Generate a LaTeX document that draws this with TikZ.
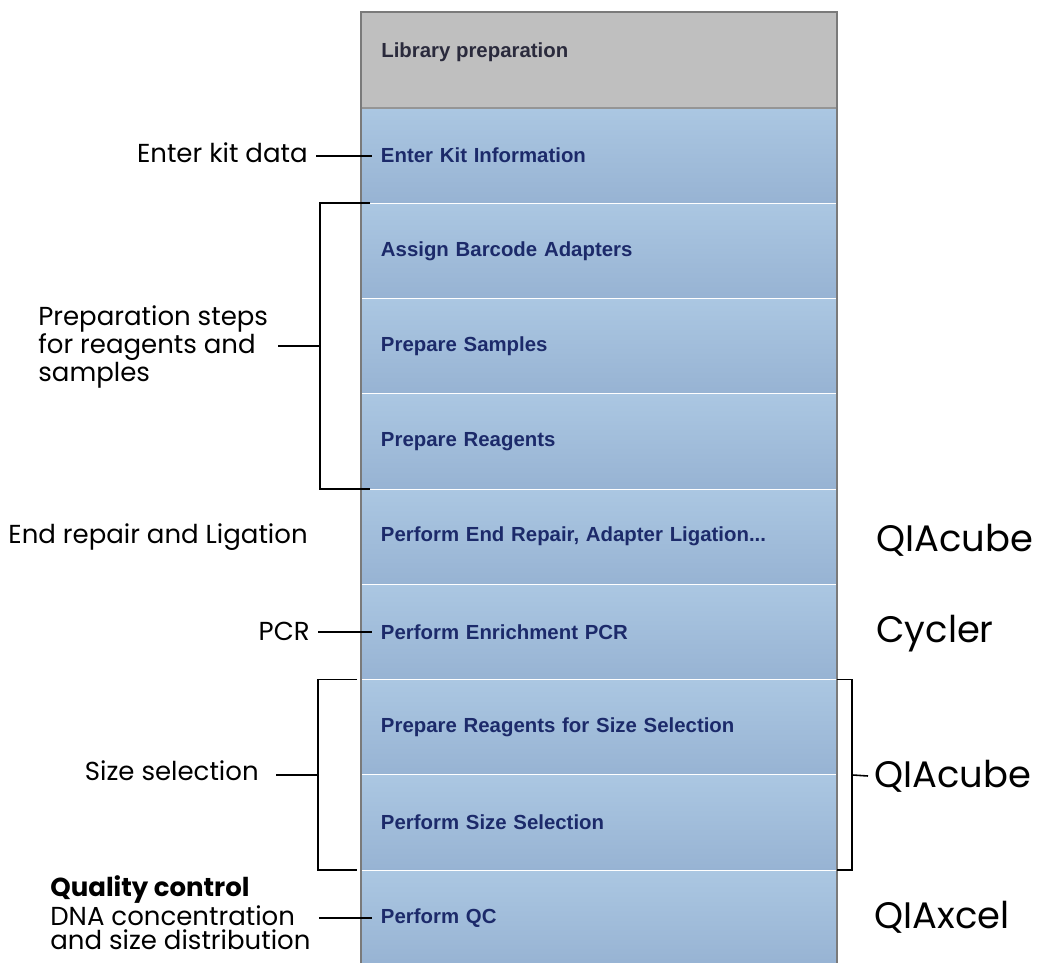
\documentclass[tikz,border=0pt]{standalone}
\usepackage{fontspec}
\setmainfont{Liberation Sans}
\newfontfamily\lblfont{Poppins}
\usepackage{xcolor}
\usetikzlibrary{positioning, calc}
\definecolor{rowtop}{HTML}{ABC7E2}
\definecolor{rowbot}{HTML}{97B3D3}
\definecolor{hdrgray}{HTML}{BFBFBF}
\definecolor{framegray}{HTML}{7A7A7A}
\definecolor{rownavy}{HTML}{1C2A6A}
\definecolor{hdrtext}{HTML}{2A2A3C}

\tikzset{
  stepbox/.style={draw=white, line width=0.6pt, top color=rowtop, bottom color=rowbot,
    minimum width=9.52cm, minimum height=1.906cm, inner sep=0pt, outer sep=0pt,
    text width=8.72cm, align=left, text=rownavy, font=\fontsize{11.6}{13}\selectfont\bfseries},
  hdrbox/.style={fill=hdrgray, minimum width=9.52cm, minimum height=1.92cm, inner sep=0pt, outer sep=0pt},
  lbl/.style={font=\lblfont\fontsize{14.8}{14.2}\selectfont, inner sep=0pt, align=left},
  biglbl/.style={font=\lblfont\fontsize{21}{24}\selectfont, inner sep=0pt},
  tick/.style={line width=1.1pt},
  brk/.style={line width=0.9pt}
}

\begin{document}
\begin{tikzpicture}[x=0.02cm, y=-0.02cm]
  \clip (0,0) rectangle (1038,963);

  % the step column
  \node[hdrbox, anchor=north west] (hdr) at (361,12) {};
  \node[stepbox, below=0pt of hdr] (kit) {Enter Kit Information};
  \node[stepbox, below=0pt of kit] (barcode) {Assign Barcode Adapters};
  \node[stepbox, below=0pt of barcode] (samples) {Prepare Samples};
  \node[stepbox, below=0pt of samples] (reagents) {Prepare Reagents};
  \node[stepbox, below=0pt of reagents] (endrep) {Perform End Repair, Adapter Ligation...};
  \node[stepbox, below=0pt of endrep] (pcr) {Perform Enrichment PCR};
  \node[stepbox, below=0pt of pcr] (sizereag) {Prepare Reagents for Size Selection};
  \node[stepbox, below=0pt of sizereag] (sizesel) {Perform Size Selection};
  \node[stepbox, below=0pt of sizesel] (qc) {Perform QC};
  \node[anchor=west, inner sep=0pt, text=hdrtext, font=\fontsize{11.6}{13}\selectfont\bfseries]
    (hdrtxt) at ($(hdr.west)+(20,-8)$) {Library preparation};
  \draw[line width=1.6pt, framegray!80] (hdr.south west) -- (hdr.south east);
  \draw[line width=1.2pt, framegray] (qc.south west) -- (hdr.north west) -- (hdr.north east) -- (qc.south east);

  % left labels
  \node[lbl, anchor=east] (kitlbl) at (308,153) {Enter kit data};
  \node[lbl, anchor=west] (preplbl) at (38,347) {Preparation steps\\for reagents and\\samples};
  \node[lbl, anchor=east] (endlbl) at (308,537) {End repair and Ligation};
  \node[lbl, anchor=east] (pcrlbl) at (310,631) {PCR};
  \node[lbl, anchor=east] (sizelbl) at (259,771) {Size selection};
  \node[lbl, anchor=west] (qclbl) at (50,913) {\textbf{Quality control}\\DNA concentration\\and size distribution};

  % right labels
  \node[biglbl, anchor=west] (cube1) at (876,540) {QIAcube};
  \node[biglbl, anchor=west] (cycler) at (876,634) {Cycler};
  \node[biglbl, anchor=west] (cube2) at (874,776) {QIAcube};
  \node[biglbl, anchor=west] (xcel) at (874,917) {QIAxcel};

  % connectors
  \draw[tick] ($(kitlbl.east |- kit.west)+(8,0)$) -- ($(kit.west)+(11,0)$);
  \draw[tick] ($(pcrlbl.east |- pcr.west)+(8,0)$) -- ($(pcr.west)+(11,0)$);
  \draw[tick] ($(qclbl.east |- qc.west)+(8,0)$) -- ($(qc.west)+(11,0)$);

  \coordinate (pb) at ($(barcode.north west)!0.5!(reagents.south west)+(-41,0)$);
  \draw[brk] ($(barcode.north west)+(9,0)$) -| (pb) |- ($(reagents.south west)+(9,0)$);
  \draw[brk] ($(preplbl.east |- pb)+(10,0)$) -- (pb);

  \coordinate (sb) at ($(sizereag.north west)!0.5!(sizesel.south west)+(-43,0)$);
  \draw[brk] ($(sizereag.north west)+(-4,0)$) -| (sb) |- ($(sizesel.south west)+(-4,0)$);
  \draw[brk] ($(sizelbl.east |- sb)+(17,0)$) -- (sb);

  \coordinate (rb) at ($(sizereag.north east)!0.5!(sizesel.south east)+(15,0)$);
  \draw[brk] (sizereag.north east) -| (rb) |- (sizesel.south east);
  \draw[brk] (rb) -- ($(cube2.west)+(-6,0)$);
\end{tikzpicture}
\end{document}
